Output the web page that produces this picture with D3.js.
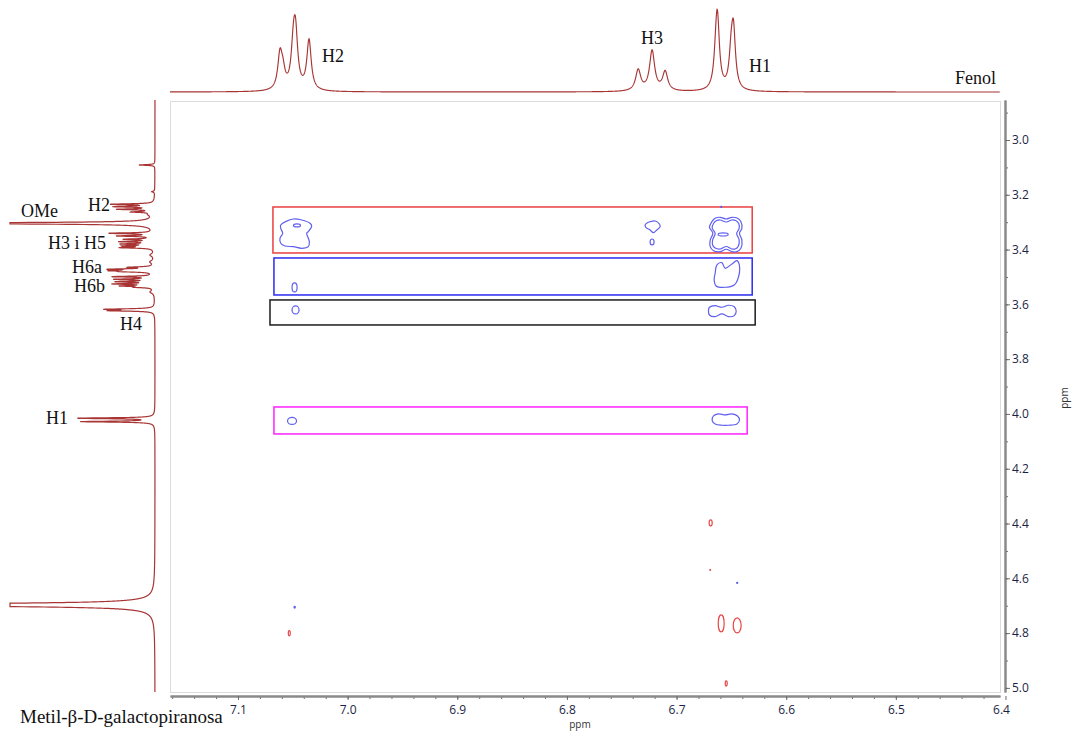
<!DOCTYPE html>
<html>
<head>
<meta charset="utf-8">
<script src="https://cdn.jsdelivr.net/npm/d3@7"></script>
<style>
  body { margin: 0; background: #fff; }
  svg { display: block; }
</style>
</head>
<body>
<svg id="chart" width="1072" height="731"></svg>
<script>
// ---- F2 (phenol, aromatic) projection: [ppm, intensity, half-width ppm]
const f2Peaks = [
  [7.0617, 34, 0.0024], [7.0590, 15, 0.0024], [7.0495, 36, 0.0024],
  [7.0475, 50, 0.0024], [7.0352, 50, 0.0024],
  [6.7350, 21, 0.0028], [6.7223, 40, 0.0028], [6.7104, 19, 0.0028],
  [6.6641, 22, 0.0022], [6.6627, 64, 0.0022], [6.6502, 30, 0.0022], [6.6481, 55, 0.0022]
];

// ---- F1 (methyl-beta-D-galactopyranoside) projection: [ppm, intensity, half-width ppm]
const f1Peaks = [
  [3.0912, 16, 0.0015], [3.1887, 3, 0.002],
  [3.2347, 42, 0.002], [3.2434, 38, 0.002], [3.2529, 35, 0.002], [3.2628, 20, 0.002],
  [3.2720, 4, 0.006],
  [3.3040, 300, 0.0025],
  [3.3405, 43, 0.002], [3.3504, 35, 0.002], [3.3624, 28, 0.002], [3.3712, 32, 0.002],
  [3.3796, 30, 0.002], [3.3869, 27, 0.002], [3.3931, 32, 0.002],
  [3.4200, 4, 0.006], [3.4450, 4, 0.006],
  [3.4646, 23, 0.002], [3.4719, 40, 0.002], [3.4770, 35, 0.002], [3.4807, 25, 0.002],
  [3.4989, 40, 0.002], [3.5084, 37, 0.002], [3.5172, 35, 0.002], [3.5255, 38, 0.002],
  [3.5328, 30, 0.002], [3.5376, 15, 0.002],
  [3.5550, 4, 0.006],
  [3.6179, 46, 0.002], [3.6230, 42, 0.002],
  [4.0157, 76, 0.002], [4.0281, 73, 0.002],
  [4.6971, 400, 0.0047]
];

// ---- axis ticks
const xMajorTicks = [7.1, 7.0, 6.9, 6.8, 6.7, 6.6, 6.5, 6.4];
const yMajorTicks = [3.0, 3.2, 3.4, 3.6, 3.8, 4.0, 4.2, 4.4, 4.6, 4.8, 5.0];

// ---- highlighted correlation bands (F2 range, F1 range)
const bandF2 = [[7.0681, 6.6310], [7.0672, 6.6310], [7.0708, 6.6283], [7.0672, 6.6356]];
const bandF1 = [[3.2445, 3.4124], [3.4307, 3.5657], [3.5839, 3.6752], [3.9745, 4.0730]];

// ---- positive cross-peak contours (outline points, [F2 ppm, F1 ppm])
const positiveContours = [
  [[7.0610,3.3102],[7.0495,3.2883],[7.0419,3.2920],[7.0343,3.3040],[7.0328,3.3139],[7.0359,3.3347],
   [7.0373,3.3405],[7.0349,3.3712],[7.0359,3.3894],[7.0419,3.3953],[7.0495,3.3894],[7.0571,3.3869],
   [7.0610,3.3770],[7.0617,3.3588],[7.0592,3.3405],[7.0610,3.3223]],
  [[6.7241,3.2982],[6.7195,3.2956],[6.7156,3.3066],[6.7150,3.3164],[6.7180,3.3285],[6.7211,3.3383],
   [6.7241,3.3285],[6.7280,3.3186],[6.7287,3.3102],[6.7266,3.3018]],
  [[6.6678,3.2982],[6.6648,3.2858],[6.6602,3.2821],[6.6547,3.2883],[6.6495,3.2821],[6.6444,3.2858],
   [6.6413,3.2982],[6.6404,3.3223],[6.6426,3.3405],[6.6404,3.3650],[6.6413,3.3953],[6.6450,3.4077],
   [6.6495,3.4077],[6.6547,3.3989],[6.6602,3.4077],[6.6663,3.4040],[6.6693,3.3894],[6.6693,3.3650],
   [6.6669,3.3405],[6.6700,3.3186]],
  [[6.6660,3.3029],[6.6634,3.2938],[6.6602,3.2920],[6.6547,3.2993],[6.6497,3.2920],[6.6461,3.2938],
   [6.6433,3.3047],[6.6429,3.3230],[6.6452,3.3412],[6.6429,3.3650],[6.6438,3.3887],[6.6465,3.3978],
   [6.6497,3.3978],[6.6547,3.3887],[6.6602,3.3978],[6.6648,3.3942],[6.6671,3.3832],[6.6671,3.3650],
   [6.6648,3.3412],[6.6675,3.3212]],
  [[6.6632,3.4562],[6.6587,3.4478],[6.6557,3.4682],[6.6495,3.4526],[6.6450,3.4405],[6.6426,3.4599],
   [6.6444,3.5109],[6.6474,3.5292],[6.6557,3.5376],[6.6639,3.5328],[6.6657,3.5109],[6.6648,3.4865]],
  [[6.6700,3.6106],[6.6648,3.6047],[6.6587,3.6106],[6.6526,3.6033],[6.6474,3.6084],[6.6456,3.6241],
   [6.6474,3.6412],[6.6526,3.6449],[6.6587,3.6350],[6.6648,3.6449],[6.6700,3.6387],[6.6709,3.6241]],
  [[6.6663,4.0073],[6.6618,4.0000],[6.6557,4.0036],[6.6495,4.0000],[6.6444,4.0073],[6.6426,4.0219],
   [6.6450,4.0365],[6.6526,4.0412],[6.6587,4.0412],[6.6648,4.0365],[6.6675,4.0245]]
];

// ---- small peaks drawn as ellipses: [F2 centre, F1 centre, F2 radius, F1 radius]
const positiveSpots = [
  [7.0462, 3.3120, 0.0032, 0.0055], [7.0484, 3.5383, 0.0023, 0.0164],
  [7.0475, 3.6204, 0.0032, 0.0146], [6.7223, 3.3723, 0.0018, 0.0109],
  [6.6575, 3.3449, 0.0046, 0.0055], [7.0507, 4.0255, 0.0041, 0.0128],
  [6.6447, 4.6168, 0.0005, 0.0020], [6.6593, 3.2445, 0.0005, 0.0020],
  [7.0483, 4.7055, 0.0006, 0.0030]
];
const negativeSpots = [
  [6.6689, 4.3978, 0.0014, 0.0109], [6.6693, 4.5693, 0.0004, 0.0015],
  [7.0532, 4.8004, 0.0009, 0.0091], [6.6593, 4.7646, 0.0027, 0.0310],
  [6.6447, 4.7719, 0.0036, 0.0274], [6.6547, 4.9836, 0.0009, 0.0091]
];

// ---- annotation text
const f2Labels = ["H2", "H3", "H1", "Fenol"];
const f1Labels = ["OMe", "H2", "H3 i H5", "H6a", "H6b", "H4", "H1"];

// ================= drawing =================
const svg = d3.select("#chart");
const plot = { left: 170, right: 1000, top: 101, bottom: 692 };

const x = d3.scaleLinear().domain([7.162, 6.405]).range([plot.left, plot.right]);
const y = d3.scaleLinear().domain([2.854, 5.015]).range([100, 692]);

const lorentz = (peaks, v) =>
  d3.sum(peaks, p => p[1] / (1 + ((v - p[0]) / p[2]) ** 2));

// plot frame
svg.append("rect")
  .attr("x", plot.left + 0.5).attr("y", plot.top + 0.5)
  .attr("width", plot.right - plot.left).attr("height", plot.bottom - plot.top)
  .attr("fill", "none").attr("stroke", "#dcdcdc").attr("stroke-width", 1);

// axes
const tickFont = "'Open Sans', 'DejaVu Sans', sans-serif";
function styleAxis(g) {
  g.select(".domain").attr("stroke", "#8a8a8a").attr("stroke-width", 2);
  g.selectAll(".tick line").attr("stroke", "#6f6f6f");
  g.selectAll(".tick text").attr("fill", "#1d1f45").attr("font-size", 12)
    .attr("font-family", tickFont);
}

const yMinor = d3.range(29, 51).map(d => d / 10);
svg.append("g").attr("transform", "translate(1005,0)")
  .call(d3.axisRight(y).tickValues(yMinor).tickSize(3).tickSizeOuter(0).tickFormat(""))
  .call(styleAxis);
svg.append("g").attr("transform", "translate(1005,0)")
  .call(d3.axisRight(y).tickValues(yMajorTicks).tickSize(5).tickSizeOuter(0)
    .tickPadding(2).tickFormat(d3.format(".1f")))
  .call(styleAxis);

const xMinor = d3.range(0, 38).map(i => +(7.16 - i * 0.02).toFixed(2));
svg.append("g").attr("transform", "translate(0,696)")
  .call(d3.axisBottom(x).tickValues(xMinor).tickSize(3).tickSizeOuter(0).tickFormat(""))
  .call(styleAxis);
const xAxis = svg.append("g").attr("transform", "translate(0,696)")
  .call(d3.axisBottom(x).tickValues(xMajorTicks).tickSize(4).tickSizeOuter(0)
    .tickPadding(5).tickFormat(d3.format(".1f")))
  .call(styleAxis);
// keep the last label inside the frame
xAxis.selectAll(".tick text").filter(d => d === 6.4).attr("text-anchor", "end").attr("dx", 4);

svg.append("text").attr("x", 580).attr("y", 728).attr("text-anchor", "middle")
  .attr("font-family", tickFont).attr("font-size", 10).attr("fill", "#333")
  .text("ppm");
svg.append("text").attr("transform", "translate(1068,398) rotate(-90)")
  .attr("text-anchor", "middle").attr("font-family", tickFont)
  .attr("font-size", 10).attr("fill", "#333").text("ppm");

// correlation bands
const bandColor = ["#ea3f3f", "#2a2af0", "#1c1c1c", "#ff20ff"];
svg.append("g").selectAll("rect").data(d3.range(bandF2.length)).join("rect")
  .attr("x", i => x(bandF2[i][0])).attr("y", i => y(bandF1[i][0]))
  .attr("width", i => x(bandF2[i][1]) - x(bandF2[i][0]))
  .attr("height", i => y(bandF1[i][1]) - y(bandF1[i][0]))
  .attr("fill", "none").attr("stroke", i => bandColor[i]).attr("stroke-width", 1.5);

// contours
const contourLine = d3.line().x(d => x(d[0])).y(d => y(d[1]))
  .curve(d3.curveCatmullRomClosed.alpha(0.5));
const posColor = "#5f5ff0", negColor = "#e84646";

svg.append("g").selectAll("path").data(positiveContours).join("path")
  .attr("d", contourLine).attr("fill", "none")
  .attr("stroke", posColor).attr("stroke-width", 1.2);

function drawSpots(data, color) {
  svg.append("g").selectAll("ellipse").data(data).join("ellipse")
    .attr("cx", d => x(d[0])).attr("cy", d => y(d[1]))
    .attr("rx", d => Math.abs(x(d[0] + d[2]) - x(d[0])))
    .attr("ry", d => Math.abs(y(d[1] + d[3]) - y(d[1])))
    .attr("fill", "none").attr("stroke", color).attr("stroke-width", 1.2);
}
drawSpots(positiveSpots, posColor);
drawSpots(negativeSpots, negColor);

// projections
const traceColor = "#a83434";
const topY = d3.scaleLinear().domain([0, 84]).range([92, 8]);
const f2Grid = d3.range(7.162, 6.405, -0.0002);
svg.append("path")
  .datum(f2Grid)
  .attr("d", d3.line().x(v => x(v)).y(v => topY(lorentz(f2Peaks, v))))
  .attr("fill", "none").attr("stroke", traceColor).attr("stroke-width", 1.15);

const sideX = d3.scaleLinear().domain([0, 145]).range([155, 10]).clamp(true);
const f1Grid = d3.range(2.854, 5.015, 0.0003);
svg.append("path")
  .datum(f1Grid)
  .attr("d", d3.line().x(v => sideX(lorentz(f1Peaks, v))).y(v => y(v)))
  .attr("fill", "none").attr("stroke", traceColor).attr("stroke-width", 1.2);

// annotations
const serif = "'Liberation Serif', 'Times New Roman', serif";
const f2LabelPos = [[322, 62], [641, 43.5], [749, 72], [955, 84]];
const f1LabelPos = [[21, 217], [88, 211], [48, 248.5], [72, 273], [74, 291.5], [120, 330], [46, 424]];
svg.append("g").selectAll("text").data(f2Labels).join("text")
  .attr("x", (d, i) => f2LabelPos[i][0]).attr("y", (d, i) => f2LabelPos[i][1])
  .attr("font-family", serif).attr("font-size", 18).attr("fill", "#111").text(d => d);
svg.append("g").selectAll("text").data(f1Labels).join("text")
  .attr("x", (d, i) => f1LabelPos[i][0]).attr("y", (d, i) => f1LabelPos[i][1])
  .attr("font-family", serif).attr("font-size", 18).attr("fill", "#111").text(d => d);

svg.append("text").attr("x", 20).attr("y", 723)
  .attr("font-family", serif).attr("font-size", 19).attr("fill", "#111")
  .text("Metil-β-D-galactopiranosa");
</script>
</body>
</html>
